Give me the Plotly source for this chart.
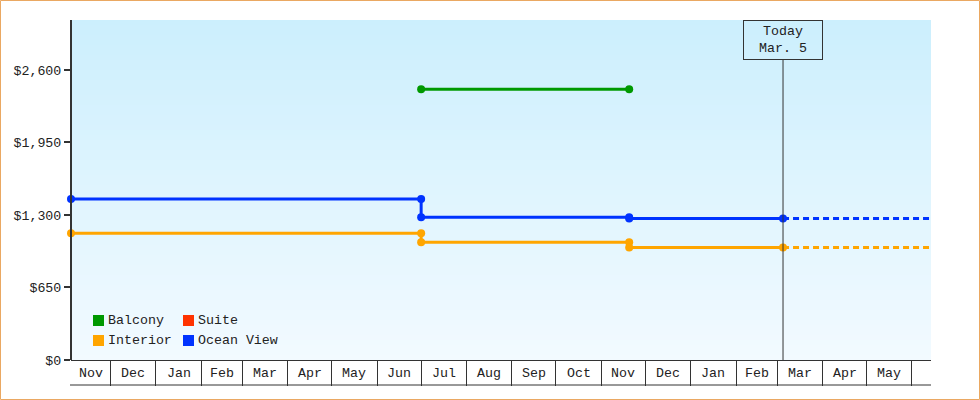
import plotly.graph_objects as go
import pandas as pd

# ---- data ----
balcony_dates = ["2013-07-01", "2013-11-20"]
balcony_prices = [2427, 2427]

interior_dates = ["2012-11-04", "2013-07-01", "2013-07-01", "2013-11-20", "2013-11-20", "2014-03-05"]
interior_prices = [1136, 1136, 1055, 1055, 1009, 1009]
interior_proj_dates = ["2014-03-05", "2014-06-14"]
interior_proj_prices = [1009, 1009]

ocean_dates = ["2012-11-04", "2013-07-01", "2013-07-01", "2013-11-20", "2013-11-20", "2014-03-05"]
ocean_prices = [1443, 1443, 1279, 1279, 1269, 1269]
ocean_proj_dates = ["2014-03-05", "2014-06-14"]
ocean_proj_prices = [1269, 1269]

legend_names = ["Balcony", "Suite", "Interior", "Ocean View"]
legend_colors = ["#009900", "#ff3300", "#ffa500", "#0033ff"]

y_tick_vals = [0, 650, 1300, 1950, 2600]
y_tick_text = ["$0", "$650", "$1,300", "$1,950", "$2,600"]

month_labels = ["Nov", "Dec", "Jan", "Feb", "Mar", "Apr", "May", "Jun", "Jul", "Aug",
                "Sep", "Oct", "Nov", "Dec", "Jan", "Feb", "Mar", "Apr", "May", "Jun"]
month_starts = pd.date_range("2012-11-01", "2014-06-01", freq="MS")

today = "2014-03-05"
today_text = "Today<br>Mar. 5"

x_range = ["2012-11-04", "2014-06-14"]
y_range = [0, 3048]

# ---- layout geometry ----
W, H = 980, 400
L, R, T, B = 71, 931, 20, 360
FONT = "Liberation Mono"
FS = 13.3
DARK = "#333333"
TXT = "#222222"


def px_x(px):
    return (px - L) / (R - L)


def px_y(py):
    return (B - py) / (B - T)


fig = go.Figure()

line_w = 3
msize = 8
fig.add_trace(go.Scatter(x=balcony_dates, y=balcony_prices, mode="lines+markers",
                         line=dict(color=legend_colors[0], width=line_w),
                         marker=dict(size=msize, color=legend_colors[0]),
                         cliponaxis=False, name="Balcony"))
fig.add_trace(go.Scatter(x=interior_proj_dates, y=interior_proj_prices, mode="lines",
                         line=dict(color=legend_colors[2], width=line_w, dash="6px,4px"),
                         name="Interior projection"))
fig.add_trace(go.Scatter(x=ocean_proj_dates, y=ocean_proj_prices, mode="lines",
                         line=dict(color=legend_colors[3], width=line_w, dash="6px,4px"),
                         name="Ocean View projection"))
fig.add_trace(go.Scatter(x=interior_dates, y=interior_prices, mode="lines+markers",
                         line=dict(color=legend_colors[2], width=line_w),
                         marker=dict(size=msize, color=legend_colors[2]),
                         cliponaxis=False, name="Interior"))
fig.add_trace(go.Scatter(x=ocean_dates, y=ocean_prices, mode="lines+markers",
                         line=dict(color=legend_colors[3], width=line_w),
                         marker=dict(size=msize, color=legend_colors[3]),
                         cliponaxis=False, name="Ocean View"))

shapes = []
# gradient background
top_c = (204, 239, 253)
bot_c = (242, 250, 255)
n = 68
for i in range(n):
    f = i / (n - 1)
    c = tuple(round(top_c[k] + (bot_c[k] - top_c[k]) * f) for k in range(3))
    y1 = 1 - i / n
    y0 = 1 - (i + 1) / n
    shapes.append(dict(type="rect", xref="paper", yref="paper", x0=0, x1=1, y0=y0, y1=y1,
                       fillcolor="rgb(%d,%d,%d)" % c, line=dict(width=0), layer="below"))

# left axis line
shapes.append(dict(type="line", xref="paper", yref="paper", x0=px_x(71), x1=px_x(71),
                   y0=0, y1=1, line=dict(color=DARK, width=2)))
# bottom line of month boxes
shapes.append(dict(type="line", xref="paper", yref="paper", x0=px_x(70), x1=1,
                   y0=px_y(385), y1=px_y(385), line=dict(color=DARK, width=1)))
# today line
shapes.append(dict(type="line", xref="x", yref="paper", x0=today, x1=today,
                   y0=0, y1=px_y(60), line=dict(color=DARK, width=1)))
# page border
shapes.append(dict(type="rect", xref="paper", yref="paper",
                   x0=px_x(0.5), x1=px_x(979.5), y0=px_y(399.5), y1=px_y(0.5),
                   line=dict(color="#eaa862", width=1), fillcolor="rgba(0,0,0,0)"))

annotations = []
# month labels
rs, re_ = pd.Timestamp(x_range[0]), pd.Timestamp(x_range[1])
total_days = (re_ - rs).days
for i, lab in enumerate(month_labels):
    s = month_starts[i]
    e = s + pd.offsets.MonthBegin(1)
    a, b = max(s, rs), min(e, re_)
    if (b - a).days * (R - L) / total_days < 30:
        continue
    mid = a + (b - a) / 2
    annotations.append(dict(x=mid, xref="x", y=px_y(373), yref="paper", text=lab,
                            showarrow=False, xanchor="center", yanchor="middle",
                            font=dict(family=FONT, size=FS, color=TXT)))

# today box
annotations.append(dict(x=today, xref="x", y=1, yref="paper", text=today_text,
                        showarrow=False, xanchor="center", yanchor="top",
                        width=78, height=38, borderpad=0, borderwidth=1,
                        bordercolor=DARK, bgcolor="rgba(0,0,0,0)",
                        font=dict(family=FONT, size=FS, color=TXT)))

# legend
leg_pos = [(93, 315), (183, 315), (93, 335), (183, 335)]
for (lx, ly), name, col in zip(leg_pos, legend_names, legend_colors):
    shapes.append(dict(type="rect", xref="paper", yref="paper",
                       x0=px_x(lx), x1=px_x(lx + 11), y0=px_y(ly + 11), y1=px_y(ly),
                       fillcolor=col, line=dict(width=0)))
    annotations.append(dict(x=px_x(lx + 13), xref="paper", y=px_y(ly + 5.5), yref="paper",
                            text=name, showarrow=False, xanchor="left", yanchor="middle",
                            font=dict(family=FONT, size=FS, color=TXT)))

fig.update_layout(
    width=W, height=H,
    margin=dict(l=L, r=W - R, t=T, b=H - B, pad=0),
    paper_bgcolor="white", plot_bgcolor="rgba(0,0,0,0)",
    showlegend=False,
    shapes=shapes, annotations=annotations,
    font=dict(family=FONT, size=FS, color=TXT),
    xaxis=dict(type="date", range=x_range, showgrid=False, zeroline=False,
               showline=True, linecolor=DARK, linewidth=1,
               ticks="outside", ticklen=25, tickwidth=1, tickcolor=DARK,
               tickvals=list(month_starts), showticklabels=False, fixedrange=True),
    yaxis=dict(range=y_range, showgrid=False, zeroline=False,
               showline=False,
               ticks="outside", ticklen=6, tickwidth=2, tickcolor=DARK,
               tickvals=y_tick_vals, ticktext=y_tick_text,
               tickfont=dict(family=FONT, size=FS, color=TXT), fixedrange=True),
)

fig.write_html("out.html", config={"displayModeBar": False},
               post_script="document.body.style.margin='0';")
